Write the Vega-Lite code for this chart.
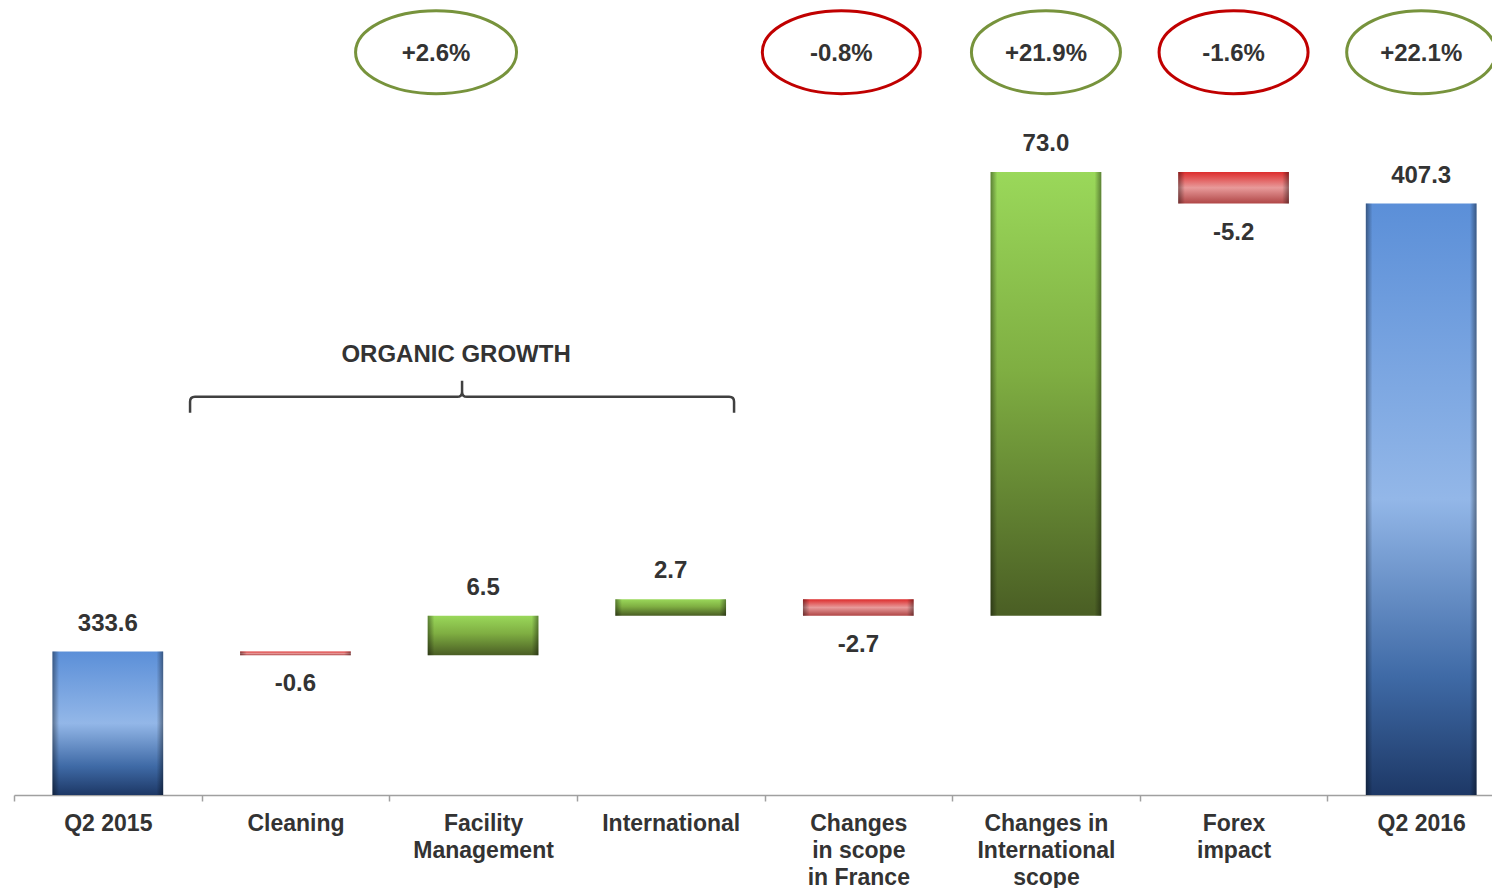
{
  "$schema": "https://vega.github.io/schema/vega-lite/v6.json",
  "width": 1478,
  "height": 795,
  "autosize": {"type": "none"},
  "padding": {"left": 14, "top": 0, "right": 0, "bottom": 93},
  "background": "white",
  "config": {
    "view": {"stroke": null},
    "font": "Liberation Sans",
    "text": {"font": "Liberation Sans", "fontWeight": "bold", "color": "#333333"}
  },
  "data": {
    "values": [
      {"cat": "Q2 2015", "kind": "total", "start": 0, "end": 333.6, "amount": 333.6, "label": "333.6"},
      {"cat": "Cleaning", "kind": "down", "start": 333.6, "end": 333.0, "amount": -0.6, "label": "-0.6"},
      {"cat": "Facility|Management", "kind": "up", "start": 333.0, "end": 339.5, "amount": 6.5, "label": "6.5"},
      {"cat": "International", "kind": "up", "start": 339.5, "end": 342.2, "amount": 2.7, "label": "2.7"},
      {"cat": "Changes|in scope|in France", "kind": "down", "start": 342.2, "end": 339.5, "amount": -2.7, "label": "-2.7"},
      {"cat": "Changes in|International|scope", "kind": "up", "start": 339.5, "end": 412.5, "amount": 73.0, "label": "73.0"},
      {"cat": "Forex|impact", "kind": "down", "start": 412.5, "end": 407.3, "amount": -5.2, "label": "-5.2"},
      {"cat": "Q2 2016", "kind": "total", "start": 0, "end": 407.3, "amount": 407.3, "label": "407.3"}
    ]
  },
  "encoding": {
    "x": {
      "field": "cat",
      "type": "nominal",
      "sort": null,
      "scale": {
        "domain": ["Q2 2015", "Cleaning", "Facility|Management", "International", "Changes|in scope|in France", "Changes in|International|scope", "Forex|impact", "Q2 2016"],
        "range": [0, 1501], "paddingInner": 0, "paddingOuter": 0
      },
      "axis": {
        "title": null,
        "labelExpr": "isString(datum.value) ? split(datum.value, '|') : ''",
        "labelAngle": 0,
        "labelFont": "Liberation Sans",
        "labelFontWeight": "bold",
        "labelFontSize": 23,
        "labelColor": "#333333",
        "labelBaseline": "alphabetic",
        "labelLineHeight": 27,
        "labelPadding": 29,
        "labelOverlap": false,
        "labelLimit": 0,
        "tickBand": "extent",
        "tickSize": 6,
        "tickColor": "#a0a0a0",
        "tickWidth": 1.5,
        "domainColor": "#a0a0a0",
        "domainWidth": 1.5,
        "grid": false
      }
    }
  },
  "layer": [
    {
      "transform": [{"filter": "datum.kind == 'total'"}],
      "mark": {
        "type": "bar",
        "width": {"band": 0.59},
        "color": {
          "gradient": "linear", "x1": 0, "y1": 0, "x2": 0, "y2": 1,
          "stops": [
            {"offset": 0, "color": "#5b8fd8"},
            {"offset": 0.5, "color": "#93b7e8"},
            {"offset": 0.8, "color": "#3f6aa6"},
            {"offset": 1, "color": "#1d3866"}
          ]
        }
      },
      "encoding": {
        "y": {"field": "end", "type": "quantitative", "axis": null,
              "scale": {"domain": [310, 440.78], "zero": false, "nice": false, "clamp": true}},
        "y2": {"field": "start"}
      }
    },
    {
      "transform": [{"filter": "datum.kind == 'up'"}],
      "mark": {
        "type": "bar",
        "width": {"band": 0.59},
        "color": {
          "gradient": "linear", "x1": 0, "y1": 0, "x2": 0, "y2": 1,
          "stops": [
            {"offset": 0, "color": "#9ad85a"},
            {"offset": 0.45, "color": "#7fae42"},
            {"offset": 1, "color": "#4a5e24"}
          ]
        }
      },
      "encoding": {
        "y": {"field": "end", "type": "quantitative", "axis": null},
        "y2": {"field": "start"}
      }
    },
    {
      "transform": [{"filter": "datum.kind == 'down'"}],
      "mark": {
        "type": "bar",
        "width": {"band": 0.59},
        "color": {
          "gradient": "linear", "x1": 0, "y1": 0, "x2": 0, "y2": 1,
          "stops": [
            {"offset": 0, "color": "#dd2c2c"},
            {"offset": 0.5, "color": "#e89a9a"},
            {"offset": 1, "color": "#b04646"}
          ]
        }
      },
      "encoding": {
        "y": {"field": "end", "type": "quantitative", "axis": null},
        "y2": {"field": "start"}
      }
    },
    {
      "mark": {
        "type": "bar",
        "width": {"band": 0.59},
        "color": {
          "gradient": "linear", "x1": 0, "y1": 0, "x2": 1, "y2": 0,
          "stops": [
            {"offset": 0, "color": "rgba(0,0,0,0.4)"},
            {"offset": 0.06, "color": "rgba(0,0,0,0)"},
            {"offset": 0.94, "color": "rgba(0,0,0,0)"},
            {"offset": 1, "color": "rgba(0,0,0,0.4)"}
          ]
        }
      },
      "encoding": {
        "y": {"field": "end", "type": "quantitative", "axis": null},
        "y2": {"field": "start"}
      }
    },
    {
      "transform": [{"filter": "datum.amount > 0"}],
      "mark": {"type": "text", "fontSize": 24, "baseline": "alphabetic", "dy": -21},
      "encoding": {
        "y": {"field": "end", "type": "quantitative", "axis": null},
        "text": {"field": "label"}
      }
    },
    {
      "transform": [{"filter": "datum.amount < 0"}],
      "mark": {"type": "text", "fontSize": 24, "baseline": "alphabetic", "dy": 36},
      "encoding": {
        "y": {"field": "end", "type": "quantitative", "axis": null},
        "text": {"field": "label"}
      }
    },
    {
      "data": {"values": [{"cat": "Facility|Management", "pct": "+2.6%", "sign": "up"}]},
      "encoding": {
        "y": {"datum": 432.2, "type": "quantitative", "axis": null}
      },
      "layer": [
        {
          "mark": {
            "type": "point", "filled": false, "opacity": 1, "xOffset": -47,
            "stroke": "#77933c", "strokeWidth": 3, "size": 25921,
            "shape": "M 1 0 C 1 0.2847 0.5523 0.5155 0 0.5155 C -0.5523 0.5155 -1 0.2847 -1 0 C -1 -0.2847 -0.5523 -0.5155 0 -0.5155 C 0.5523 -0.5155 1 -0.2847 1 0 Z"
          }
        },
        {
          "mark": {"type": "text", "fontSize": 24, "baseline": "alphabetic", "dy": 9, "xOffset": -47},
          "encoding": {"text": {"field": "pct"}}
        }
      ]
    },
    {
      "data": {"values": [{"cat": "Changes|in scope|in France", "pct": "-0.8%", "sign": "down"}]},
      "encoding": {
        "y": {"datum": 432.2, "type": "quantitative", "axis": null}
      },
      "layer": [
        {
          "mark": {
            "type": "point", "filled": false, "opacity": 1, "xOffset": -17,
            "stroke": "#c00000", "strokeWidth": 3, "size": 24964,
            "shape": "M 1 0 C 1 0.29 0.5523 0.525 0 0.525 C -0.5523 0.525 -1 0.29 -1 0 C -1 -0.29 -0.5523 -0.525 0 -0.525 C 0.5523 -0.525 1 -0.29 1 0 Z"
          }
        },
        {
          "mark": {"type": "text", "fontSize": 24, "baseline": "alphabetic", "dy": 9, "xOffset": -17},
          "encoding": {"text": {"field": "pct"}}
        }
      ]
    },
    {
      "data": {"values": [
        {"cat": "Changes in|International|scope", "pct": "+21.9%", "sign": "up"},
        {"cat": "Forex|impact", "pct": "-1.6%", "sign": "down"},
        {"cat": "Q2 2016", "pct": "+22.1%", "sign": "up"}
      ]},
      "encoding": {
        "y": {"datum": 432.2, "type": "quantitative", "axis": null}
      },
      "layer": [
        {
          "mark": {
            "type": "point", "filled": false, "opacity": 1, "strokeWidth": 3, "size": 22201,
            "shape": "M 1 0 C 1 0.3076 0.5523 0.557 0 0.557 C -0.5523 0.557 -1 0.3076 -1 0 C -1 -0.3076 -0.5523 -0.557 0 -0.557 C 0.5523 -0.557 1 -0.3076 1 0 Z"
          },
          "encoding": {
            "stroke": {"field": "sign", "type": "nominal", "legend": null,
                       "scale": {"domain": ["up", "down"], "range": ["#77933c", "#c00000"]}}
          }
        },
        {
          "mark": {"type": "text", "fontSize": 24, "baseline": "alphabetic", "dy": 9},
          "encoding": {"text": {"field": "pct"}}
        }
      ]
    },
    {
      "data": {"values": [{"cat": "Facility|Management", "title": "ORGANIC GROWTH"}]},
      "layer": [
        {
          "mark": {
            "type": "point", "filled": false, "opacity": 1, "xOffset": -21,
            "stroke": "#404040", "strokeWidth": 2.5, "size": 295936,
            "shape": "M -1 0.0588 L -1 0.018 Q -1 0 -0.982 0 L -0.018 0 Q 0 0 0 -0.018 L 0 -0.0588 M 0 -0.018 Q 0 0 0.018 0 L 0.982 0 Q 1 0 1 0.018 L 1 0.0588"
          },
          "encoding": {"y": {"datum": 375.5, "type": "quantitative", "axis": null}}
        },
        {
          "mark": {"type": "text", "fontSize": 24, "baseline": "alphabetic", "xOffset": -27},
          "encoding": {
            "y": {"datum": 381.2, "type": "quantitative", "axis": null},
            "text": {"field": "title"}
          }
        }
      ]
    }
  ]
}
